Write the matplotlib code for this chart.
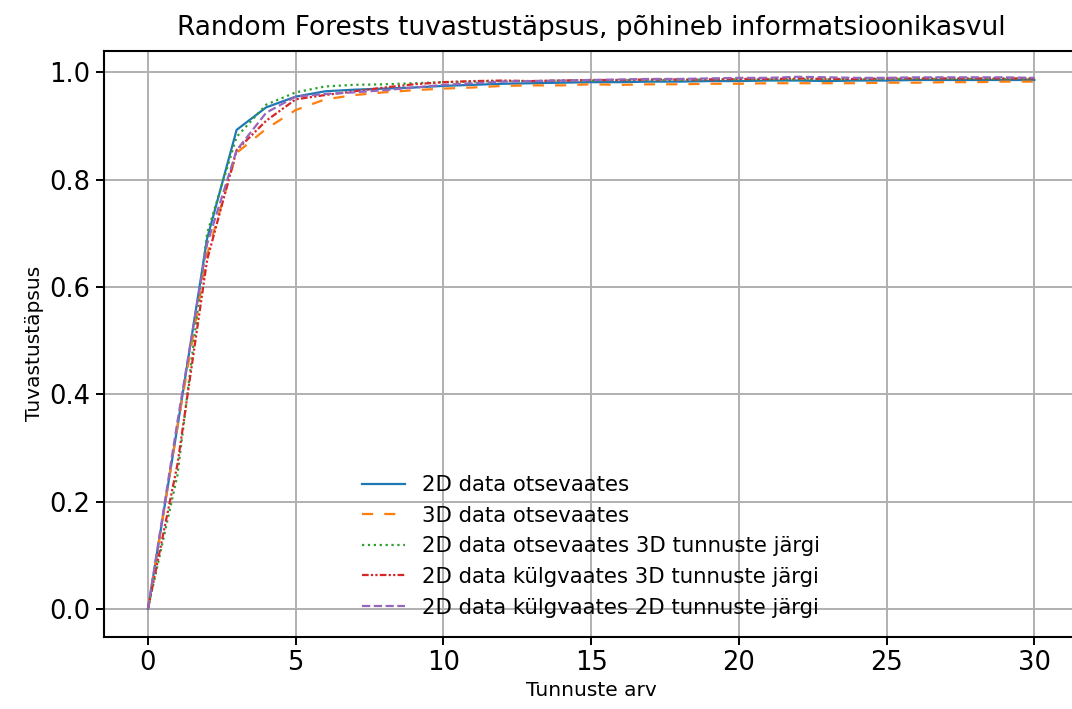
import numpy as np
import matplotlib
matplotlib.use("Agg")
import matplotlib.pyplot as plt

# number of features
tunnused = list(range(0, 31))

acc_2d_otse = [0, 0.34, 0.69, 0.893, 0.935, 0.955, 0.965, 0.968, 0.970, 0.972, 0.975,
               0.977, 0.979, 0.980, 0.981, 0.982, 0.982, 0.983, 0.983, 0.984, 0.984,
               0.985, 0.985, 0.984, 0.985, 0.985, 0.986, 0.986, 0.986, 0.986, 0.986]
acc_3d_otse = [0, 0.34, 0.66, 0.850, 0.895, 0.930, 0.950, 0.958, 0.963, 0.967, 0.970,
               0.972, 0.975, 0.976, 0.976, 0.978, 0.977, 0.978, 0.978, 0.979, 0.979,
               0.980, 0.980, 0.980, 0.980, 0.981, 0.981, 0.982, 0.982, 0.983, 0.983]
acc_2d_otse_3dt = [0, 0.25, 0.70, 0.880, 0.940, 0.963, 0.974, 0.977, 0.978, 0.980, 0.982,
                   0.983, 0.984, 0.984, 0.985, 0.985, 0.986, 0.986, 0.986, 0.987, 0.987,
                   0.987, 0.987, 0.987, 0.987, 0.988, 0.988, 0.988, 0.988, 0.988, 0.988]
acc_2d_kulg_3dt = [0, 0.27, 0.65, 0.855, 0.910, 0.950, 0.958, 0.965, 0.972, 0.978, 0.982,
                   0.984, 0.985, 0.984, 0.985, 0.986, 0.986, 0.987, 0.987, 0.987, 0.988,
                   0.988, 0.989, 0.988, 0.988, 0.989, 0.989, 0.989, 0.989, 0.989, 0.989]
acc_2d_kulg_2dt = [0, 0.35, 0.68, 0.855, 0.925, 0.955, 0.960, 0.963, 0.967, 0.972, 0.977,
                   0.980, 0.983, 0.984, 0.985, 0.986, 0.987, 0.988, 0.988, 0.989, 0.990,
                   0.990, 0.992, 0.991, 0.990, 0.990, 0.991, 0.991, 0.991, 0.991, 0.990]

labels = ["2D data otsevaates",
          "3D data otsevaates",
          "2D data otsevaates 3D tunnuste järgi",
          "2D data külgvaates 3D tunnuste järgi",
          "2D data külgvaates 2D tunnuste järgi"]

fig = plt.figure(figsize=(10.72, 7.09), dpi=100)
ax = fig.add_axes([0.0967, 0.102, 0.9095, 0.826])

ax.plot(tunnused, acc_2d_otse, color="C0", lw=1.6, ls="-", label=labels[0])
ax.plot(tunnused, acc_3d_otse, color="C1", lw=1.6, ls=(0, (5, 5)), label=labels[1])
ax.plot(tunnused, acc_2d_otse_3dt, color="C2", lw=1.6, ls=":", label=labels[2])
ax.plot(tunnused, acc_2d_kulg_3dt, color="C3", lw=1.6, ls=(0, (3, 1, 1, 1, 1, 1)), label=labels[3])
ax.plot(tunnused, acc_2d_kulg_2dt, color="C4", lw=1.6, ls="--", label=labels[4])

ax.set_xlim(-1.5, 31.5)
ax.set_ylim(-0.052, 1.04)
ax.set_xticks([0, 5, 10, 15, 20, 25, 30])
ax.set_yticks([0.0, 0.2, 0.4, 0.6, 0.8, 1.0])
ax.grid(True, color="#b0b0b0", lw=1.4)
ax.tick_params(labelsize=18.5, length=6, width=1.4)
for s in ax.spines.values():
    s.set_linewidth(1.5)

ax.set_title("Random Forests tuvastustäpsus, põhineb informatsioonikasvul", fontsize=19, pad=11.5)
ax.set_xlabel("Tunnuste arv", fontsize=14.5)
ax.set_ylabel("Tuvastustäpsus", fontsize=14.5)
ax.legend(loc="lower center", frameon=False, fontsize=15.3)

fig.savefig("out.png", dpi=100)
